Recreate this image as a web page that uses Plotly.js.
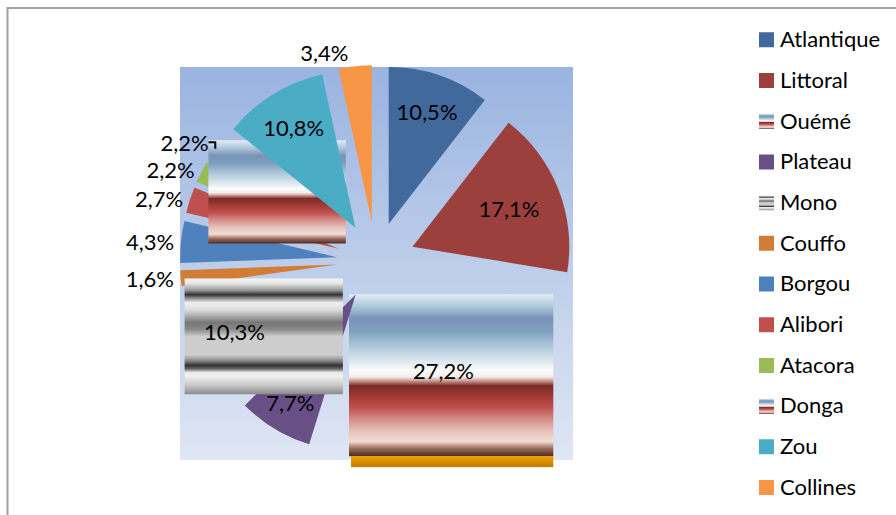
<!DOCTYPE html>
<html><head><meta charset="utf-8">
<script src="https://cdn.plot.ly/plotly-3.0.1.min.js"></script>
<style>html,body{margin:0;padding:0;background:#fff;overflow:hidden}#chart{width:896px;height:515px}</style>
</head><body>
<svg width="0" height="0" style="position:absolute">
<defs>
<linearGradient id="gHorizon" x1="0" y1="0" x2="0" y2="1">
<stop offset="0" stop-color="#e2eff6"/>
<stop offset="0.08" stop-color="#a8c4d8"/>
<stop offset="0.15" stop-color="#7893b8"/>
<stop offset="0.23" stop-color="#7fa0be"/>
<stop offset="0.31" stop-color="#a9c3d6"/>
<stop offset="0.40" stop-color="#d5e3ec"/>
<stop offset="0.47" stop-color="#fbfbfb"/>
<stop offset="0.51" stop-color="#f4ecea"/>
<stop offset="0.535" stop-color="#c89890"/>
<stop offset="0.565" stop-color="#7a2b25"/>
<stop offset="0.64" stop-color="#a83c38"/>
<stop offset="0.70" stop-color="#c0504d"/>
<stop offset="0.77" stop-color="#d48b86"/>
<stop offset="0.85" stop-color="#e8c4bd"/>
<stop offset="0.91" stop-color="#f0ddd6"/>
<stop offset="0.95" stop-color="#a07060"/>
<stop offset="1" stop-color="#4a2a20"/>
</linearGradient>
<linearGradient id="gChrome" x1="0" y1="0" x2="0" y2="1">
<stop offset="0" stop-color="#f5f5f5"/>
<stop offset="0.04" stop-color="#e8e8e8"/>
<stop offset="0.10" stop-color="#9a9a9a"/>
<stop offset="0.14" stop-color="#333333"/>
<stop offset="0.17" stop-color="#888888"/>
<stop offset="0.21" stop-color="#f0f0f0"/>
<stop offset="0.27" stop-color="#dddddd"/>
<stop offset="0.38" stop-color="#777777"/>
<stop offset="0.44" stop-color="#8a8a8a"/>
<stop offset="0.50" stop-color="#cdcdcd"/>
<stop offset="0.66" stop-color="#cdcdcd"/>
<stop offset="0.71" stop-color="#888888"/>
<stop offset="0.75" stop-color="#333333"/>
<stop offset="0.78" stop-color="#666666"/>
<stop offset="0.81" stop-color="#e6e6e6"/>
<stop offset="0.84" stop-color="#f2f2f2"/>
<stop offset="0.92" stop-color="#c8c8c8"/>
<stop offset="1" stop-color="#8a8a8a"/>
</linearGradient>
<linearGradient id="gGold" x1="0" y1="0" x2="0" y2="1">
<stop offset="0" stop-color="#f0a000"/>
<stop offset="1" stop-color="#bf7d00"/>
</linearGradient>
</defs></svg>
<div id="chart"></div>
<script>
// ---- data ----
const regions = ["Atlantique", "Littoral", "Ouémé", "Plateau", "Mono", "Couffo",
                 "Borgou", "Alibori", "Atacora", "Donga", "Zou", "Collines"];
const shares = [10.5, 17.1, 27.2, 7.7, 10.3, 1.6, 4.3, 2.7, 2.2, 2.2, 10.8, 3.4];

// ---- styles ----
const sliceColors = ["#41699c", "#9c403d", "#c0504d", "#684f86", "#b0b0b0", "#d27d35",
                     "#4f81bd", "#c0504d", "#9bbb59", "#7893b8", "#4bacc6", "#f79646"];
const labelPlacement = ["inside", "inside", "inside", "inside", "inside", "outside",
                        "outside", "outside", "outside", "outside", "inside", "outside"];
const textureOf = {2: "gHorizon", 4: "gChrome", 9: "gHorizon"};
const FONT = "Lato, 'Open Sans', sans-serif";

const bgSvg = "<svg xmlns='http://www.w3.org/2000/svg' width='100' height='100' preserveAspectRatio='none'>" +
  "<defs><linearGradient id='b' x1='0' y1='0' x2='0' y2='1'>" +
  "<stop offset='0' stop-color='#9ab4e0'/><stop offset='1' stop-color='#dfe6f4'/>" +
  "</linearGradient></defs><rect width='100' height='100' fill='url(#b)'/></svg>";

const W = 896, H = 515;

const data = [{
  type: "pie",
  labels: regions.map(r => `<span style="font-size:22px">${r}</span>`),
  values: shares,
  sort: false,
  direction: "clockwise",
  rotation: 0,
  pull: 0.25,
  marker: {colors: sliceColors, line: {width: 0}},
  texttemplate: "%{value:.1f}%",
  textposition: labelPlacement,
  insidetextorientation: "horizontal",
  textfont: {family: FONT, size: 22, color: "#000"},
  hoverinfo: "none",
  domain: {x: [180 / W, 572 / W], y: [1 - 457 / H, 1 - 65 / H]}
}];

const layout = {
  width: W, height: H,
  margin: {l: 0, r: 0, t: 0, b: 0},
  paper_bgcolor: "#fff",
  separators: ", ",
  showlegend: true,
  legend: {
    x: 740 / W, y: 1 - 10.5 / H, xanchor: "left", yanchor: "top",
    font: {family: FONT, size: 29, color: "#000"},
    bgcolor: "rgba(0,0,0,0)", borderwidth: 0, traceorder: "normal"
  },
  images: [{
    source: "data:image/svg+xml;utf8," + encodeURIComponent(bgSvg),
    xref: "paper", yref: "paper", x: 180 / W, y: 1 - 67 / H,
    sizex: 393 / W, sizey: 393 / H, sizing: "stretch",
    xanchor: "left", yanchor: "top", layer: "below"
  }],
  shapes: [{
    type: "rect", xref: "paper", yref: "paper", layer: "below",
    x0: 7.5 / W, x1: 1.05, y0: -0.05, y1: 1 - 8 / H,
    line: {color: "#a0a0a0", width: 2}, fillcolor: "rgba(0,0,0,0)"
  }]
};

Plotly.newPlot("chart", data, layout, {staticPlot: true}).then(gd => {
  const trace = gd.querySelector(".pielayer .trace");
  const slices = trace.querySelectorAll("g.slice");
  // Excel-style texture fills: drawn over the slice's bounding box
  Object.entries(textureOf).forEach(([i, gid]) => {
    const path = slices[i].querySelector("path.surface");
    const b = path.getBBox();
    const x = b.x - 1, w = b.width + 3, y = b.y, h = b.height + 5;
    path.setAttribute("d", `M${x},${y}h${w}v${h}h${-w}Z`);
    path.style.fill = `url(#${gid})`;
    if (+i === 2) {
      const r = document.createElementNS("http://www.w3.org/2000/svg", "rect");
      r.setAttribute("x", x + 2); r.setAttribute("y", y + h);
      r.setAttribute("width", w - 2); r.setAttribute("height", 11);
      r.setAttribute("fill", "url(#gGold)");
      path.parentNode.insertBefore(r, path.nextSibling);
    }
  });
  // Mono drawn above Couffo
  slices[5].parentNode.insertBefore(slices[4], slices[5].nextSibling);
  // labels on top of every slice
  const top = document.createElementNS("http://www.w3.org/2000/svg", "g");
  trace.appendChild(top);
  trace.querySelectorAll("path.textline, text.slicetext").forEach(el => top.appendChild(el));

  // legend swatches
  const gdRect = gd.getBoundingClientRect();
  gd.querySelectorAll(".legend .traces").forEach((it, i) => {
    const p = it.querySelector("path.legendpie");
    if (!p) return;
    const pr = p.getBoundingClientRect();
    const cx = pr.left + pr.width / 2 - gdRect.left;
    const dx = 766.5 - cx;
    const prev = p.getAttribute("transform") || "";
    p.setAttribute("transform", `translate(${dx},4) ${prev} scale(1.25)`);
    if (textureOf[i]) p.style.fill = `url(#${textureOf[i]})`;
  });
});
</script>
</body></html>
